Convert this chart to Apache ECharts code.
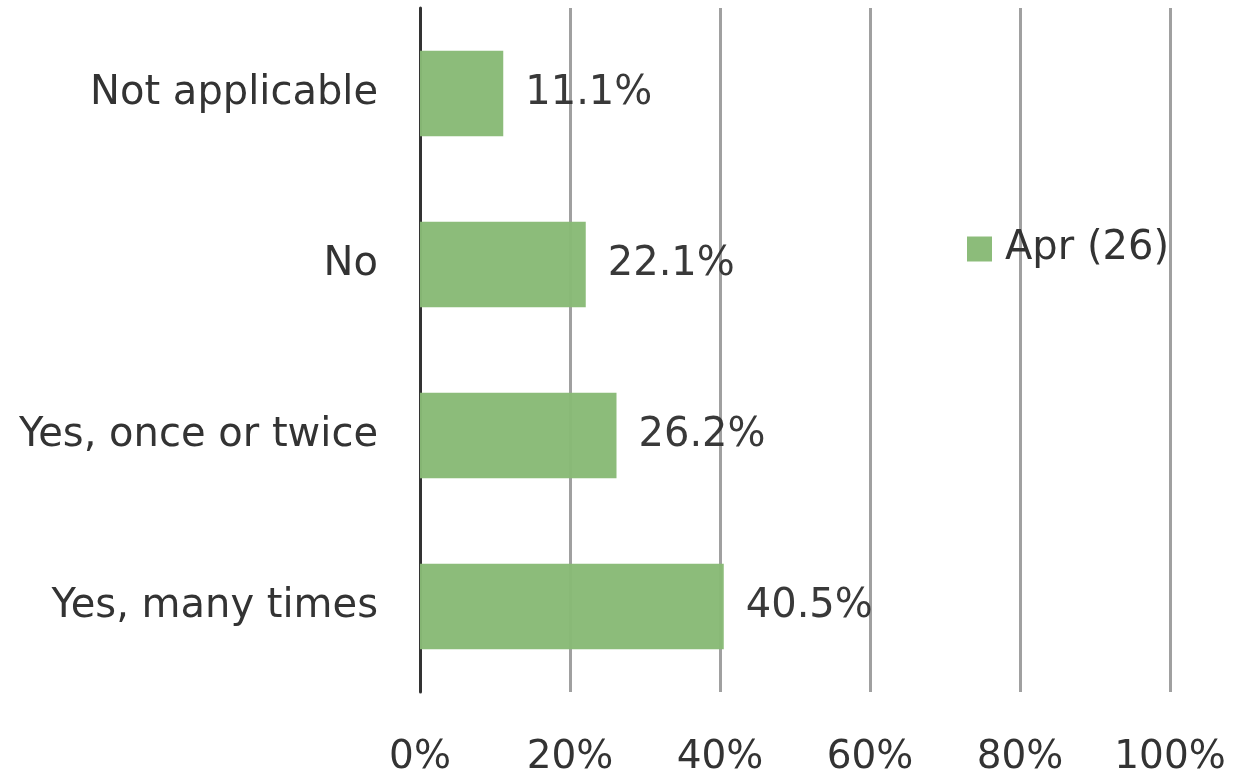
<!DOCTYPE html>
<html>
<head>
<meta charset="utf-8">
<script src="https://cdn.jsdelivr.net/npm/echarts@6/dist/echarts.min.js"></script>
<style>
  html, body { margin: 0; padding: 0; background: #fff; }
  #chart { width: 1243px; height: 780px; }
</style>
</head>
<body>
<div id="chart"></div>
<script>
// 数据（从下到上）
const categories = ['Yes, many times', 'Yes, once or twice', 'No', 'Not applicable']
const aprValues = [40.5, 26.2, 22.1, 11.1]
const seriesName = 'Apr (26)'
const xTicks = { min: 0, max: 100, interval: 20 }

const font = 'DejaVu Sans'
const chart = echarts.init(document.getElementById('chart'))

chart.setOption({
  animation: false,
  textStyle: { fontFamily: font },
  grid: {
    left: 420,
    right: 73,
    top: 8,
    bottom: 88
  },
  legend: {
    data: [seriesName],
    left: 962,
    top: 224,
    itemWidth: 25,
    itemHeight: 25,
    icon: 'rect',
    textStyle: { fontSize: 40, color: '#333', fontFamily: font, padding: [0, 0, 0, 8] }
  },
  xAxis: {
    type: 'value',
    min: xTicks.min,
    max: xTicks.max,
    interval: xTicks.interval,
    axisLine: { show: false },
    axisTick: { show: false },
    axisLabel: {
      formatter: '{value}%',
      fontSize: 39,
      color: '#333',
      margin: 46
    },
    splitLine: {
      lineStyle: { color: '#a0a0a0', width: 3 }
    }
  },
  yAxis: {
    type: 'category',
    data: categories,
    axisTick: { show: false },
    axisLine: {
      show: true,
      lineStyle: { color: '#333', width: 3 }
    },
    axisLabel: {
      fontSize: 40,
      color: '#333',
      margin: 42
    }
  },
  series: [{
    name: seriesName,
    type: 'bar',
    data: aprValues,
    barWidth: '50%',
    itemStyle: { color: '#88ba76', opacity: 0.97 },
    label: {
      show: true,
      position: 'right',
      distance: 22,
      fontSize: 40,
      color: '#333',
      formatter: p => p.value.toFixed(1) + '%'
    }
  }]
})
</script>
</body>
</html>
